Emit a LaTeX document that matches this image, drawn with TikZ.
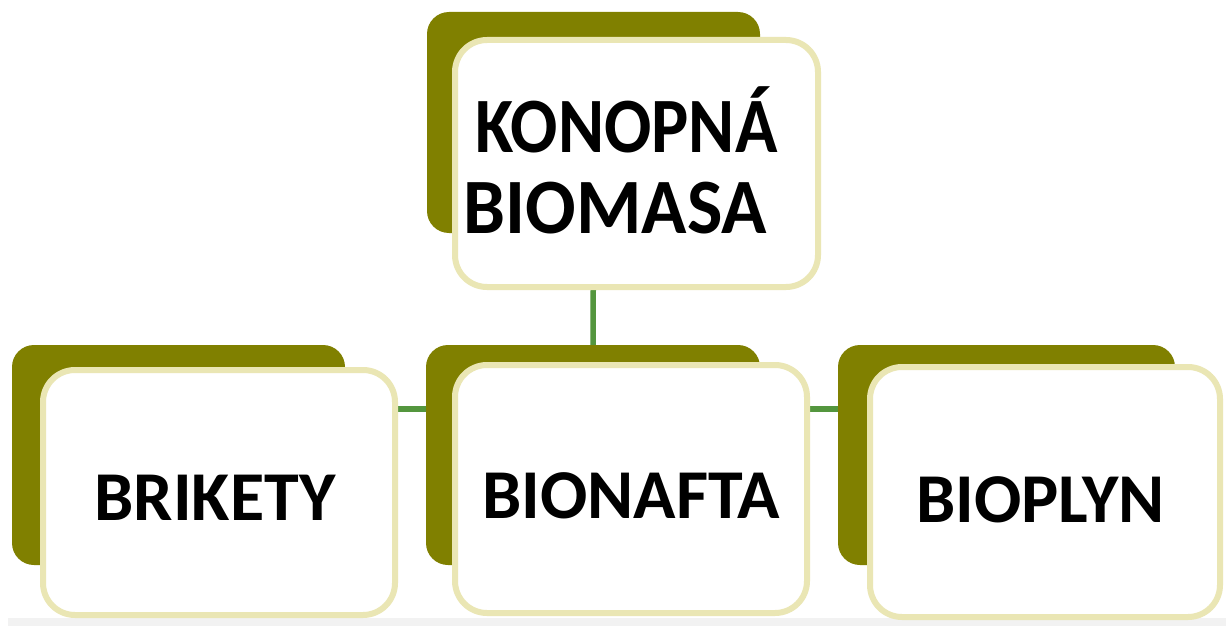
\documentclass[tikz,border=0pt]{standalone}
\usepackage{fontspec}
\setmainfont{Carlito}
\usetikzlibrary{backgrounds}
\definecolor{olive}{RGB}{128,128,0}
\definecolor{rim}{RGB}{234,230,180}
\definecolor{link}{RGB}{84,150,62}
\definecolor{strip}{RGB}{242,242,242}
\newcommand\boxlabel[3]{\raisebox{#1}[0pt][0pt]{\makebox[0pt][c]{\hspace*{#2}#3}}}
\tikzset{
  backbox/.style={fill=olive, draw=none, rounded corners=22pt, inner sep=0pt},
  frontbox/.style={fill=white, draw=rim, line width=6pt, rounded corners=32pt, inner sep=0pt,
    font=\bfseries\fontsize{70}{81}\selectfont, text=black},
  linkline/.style={draw=link, line width=5.5pt}
}
\begin{document}
\begin{tikzpicture}[x=1pt,y=-1pt]
\useasboundingbox (0,0) rectangle (1226,626);
% back boxes
\node[backbox, minimum width=333pt, minimum height=221pt] (tb) at (593.5,122.5) {};
\node[backbox, minimum width=333pt, minimum height=220pt] (lb) at (178.5,455) {};
\node[backbox, minimum width=334pt, minimum height=220pt] (mb) at (593,455) {};
\node[backbox, minimum width=337pt, minimum height=220pt] (rb) at (1006.5,455) {};
% front boxes
\node[frontbox, minimum width=363pt, minimum height=247pt] (tf) at (636.5,163.5)
  {\boxlabel{11.5pt}{-20pt}{\scalebox{1}[1.12]{KONOPNÁ}}\boxlabel{-69.5pt}{-42pt}{\scalebox{1.07}[1.12]{BIOMASA}}};
\node[frontbox, minimum width=352pt, minimum height=245pt] (lf) at (219,492.5) {\boxlabel{-27.5pt}{-8pt}{BRIKETY}};
\node[frontbox, minimum width=352pt, minimum height=248pt] (mf) at (631,489) {\boxlabel{-29pt}{0pt}{BIONAFTA}};
\node[frontbox, minimum width=350pt, minimum height=250pt] (rf) at (1045,492) {\boxlabel{-30pt}{-9pt}{BIOPLYN}};
% connectors
\coordinate (hy) at (0,409);
\begin{scope}[on background layer]
\fill[white] (0,0) rectangle (1226,626);
\fill[strip] (8,618) rectangle (1226,626);
\draw[linkline] (tb.south) -- (mb.north);
\draw[linkline] (lf.east |- hy) -- (rf.west |- hy);
\end{scope}
\end{tikzpicture}
\end{document}
